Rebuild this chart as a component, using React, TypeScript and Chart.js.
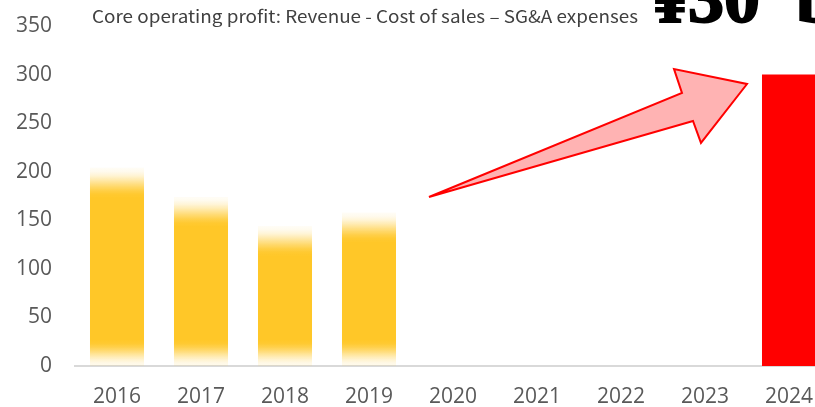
import React, { useEffect, useRef } from "react";
import { Chart, registerables } from "chart.js";

Chart.register(...registerables);

const categories = ["2016", "2017", "2018", "2019", "2020", "2021", "2022", "2023", "2024"];
const profitValues: (number | null)[] = [204, 174, 144, 158, null, null, null, null, 300];
const yTickValues = [0, 50, 100, 150, 200, 250, 300, 350];
const titleText = "Core operating profit: Revenue - Cost of sales \u2013 SG&A expenses";
const bigText = "\u00a530 billion";
// arrow outline in (category index, value) coordinates
const arrowIdx = [3.714, 6.726, 6.631, 7.5, 6.952, 6.857];
const arrowVal = [174, 281, 305.7, 290.3, 229.6, 252.2];

const YEL = "255,199,40";

const overlayPlugin = {
  id: "overlay",
  afterDatasetsDraw(chart: any) {
    const { ctx, scales } = chart;
    const xs = scales.x;
    const ys = scales.y;
    ctx.save();
    ctx.beginPath();
    arrowIdx.forEach((ix, k) => {
      const px = xs.getPixelForValue(ix);
      const py = ys.getPixelForValue(arrowVal[k]);
      if (k === 0) ctx.moveTo(px, py);
      else ctx.lineTo(px, py);
    });
    ctx.closePath();
    ctx.fillStyle = "#FFB3B3";
    ctx.fill();
    ctx.lineWidth = 2;
    ctx.strokeStyle = "#FF0000";
    ctx.lineJoin = "miter";
    ctx.stroke();
    ctx.restore();
  },
  afterDraw(chart: any) {
    const { ctx } = chart;
    ctx.save();
    ctx.font = "17px 'Noto Sans CJK JP', 'Noto Sans', sans-serif";
    ctx.fillStyle = "#404040";
    ctx.textBaseline = "alphabetic";
    ctx.textAlign = "left";
    const w = ctx.measureText(titleText).width;
    const target = 546;
    ctx.translate(92, 23);
    ctx.scale(target / w, 1);
    ctx.fillText(titleText, 0, 0);
    ctx.restore();

    ctx.save();
    ctx.font = "bold 72px 'Liberation Serif', serif";
    ctx.fillStyle = "#000000";
    ctx.strokeStyle = "#000000";
    ctx.lineWidth = 2;
    ctx.textBaseline = "alphabetic";
    ctx.textAlign = "left";
    (ctx as any).wordSpacing = "18px";
    ctx.fillText(bigText, 652, 22);
    ctx.strokeText(bigText, 652, 22);
    ctx.restore();
  },
};

function smooth(t: number) {
  const c = Math.max(0, Math.min(1, t));
  return c * c * (3 - 2 * c);
}

export default function App() {
  const ref = useRef<HTMLCanvasElement | null>(null);
  useEffect(() => {
    if (!ref.current) return;
    const chart = new Chart(ref.current, {
      type: "bar",
      data: {
        labels: categories,
        datasets: [
          {
            data: profitValues,
            barPercentage: 0.643,
            categoryPercentage: 1,
            borderWidth: 0,
            backgroundColor: (c: any) => {
              if (c.dataIndex === 8) return "#FF0000";
              const ch = c.chart;
              const ys = ch.scales && ch.scales.y;
              const v = c.raw;
              if (v == null || !ys) return `rgb(${YEL})`;
              const top = ys.getPixelForValue(v);
              const base = ys.getPixelForValue(0);
              const h = base - top;
              if (!(h > 0) || !isFinite(h)) return `rgb(${YEL})`;
              const g = ch.ctx.createLinearGradient(0, top, 0, base);
              const topFade = Math.min(h * 0.45, 30);
              const botFade = Math.min(h * 0.45, 26);
              const n = 8;
              for (let k = 0; k <= n; k++) {
                const d = (topFade * k) / n;
                const a = 0.04 + 0.96 * smooth(k / n);
                g.addColorStop(d / h, `rgba(${YEL},${a.toFixed(3)})`);
              }
              for (let k = n; k >= 0; k--) {
                const d = (botFade * k) / n;
                const a = 0.08 + 0.92 * smooth(k / n);
                g.addColorStop(1 - d / h, `rgba(${YEL},${a.toFixed(3)})`);
              }
              return g;
            },
          },
        ],
      },
      options: {
        animation: false,
        responsive: false,
        devicePixelRatio: 1,
        layout: { padding: { top: 26, right: 9, left: 0, bottom: 0 } },
        plugins: { legend: { display: false }, tooltip: { enabled: false }, title: { display: false } },
        scales: {
          x: {
            grid: { display: false, drawTicks: false },
            border: { display: true, color: "#D9D9D9", width: 2 },
            ticks: {
              color: "#595959",
              font: { family: "'Open Sans', sans-serif", size: 21 },
              padding: 18,
              maxRotation: 0,
              autoSkip: false,
            },
            afterFit: (s: any) => {
              s.height = 41;
              s.paddingLeft = 0;
              s.paddingRight = 0;
            },
          },
          y: {
            min: 0,
            max: 350,
            grid: { display: false, drawTicks: false },
            border: { display: false },
            afterBuildTicks: (s: any) => {
              s.ticks = yTickValues.map((v) => ({ value: v }));
            },
            ticks: {
              color: "#595959",
              font: { family: "'Open Sans', sans-serif", size: 21 },
              padding: 23,
            },
            afterFit: (s: any) => {
              s.width = 75;
              s.paddingTop = 0;
              s.paddingBottom = 0;
            },
          },
        },
      },
      plugins: [overlayPlugin],
    });
    return () => chart.destroy();
  }, []);
  return (
    <div style={{ position: "fixed", left: 0, top: 0, width: 815, height: 407, overflow: "hidden", background: "#fff" }}>
      <canvas ref={ref} width={840} height={407} style={{ width: 840, height: 407, display: "block" }} />
    </div>
  );
}
